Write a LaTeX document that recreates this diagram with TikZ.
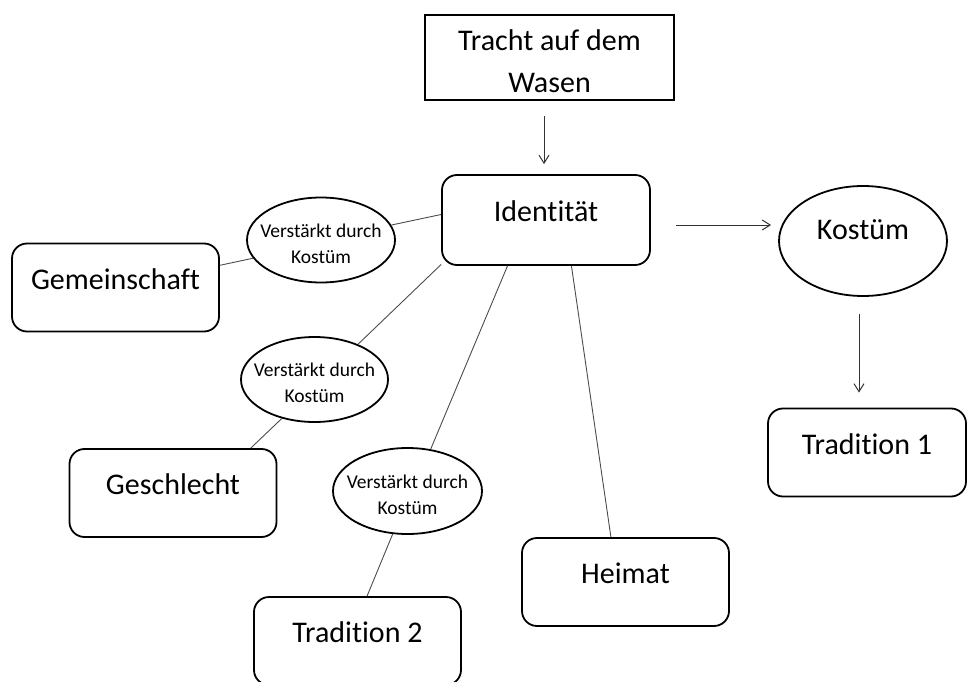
\documentclass[tikz,border=0pt]{standalone}
\usepackage{fontspec}
\setmainfont[Ligatures=NoCommon]{Carlito}
\usetikzlibrary{shapes,arrows.meta,positioning}

\begin{document}
\begin{tikzpicture}[x=1pt, y=-1pt,
        >={Straight Barb[length=8pt,width=10pt]},
        every node/.style={font=\fontsize{30}{42}\selectfont},
        box/.style={draw, line width=1.8pt, rounded corners=15pt, minimum width=207pt, minimum height=88pt, text height=21pt, text depth=17.5pt},
        bubble/.style={draw, ellipse, line width=1.8pt, inner xsep=-20pt, inner ysep=0pt, minimum width=148pt, minimum height=85pt, align=center, font=\fontsize{19.5}{26}\selectfont},
        link/.style={draw=black!70, line width=0.9pt},
        arrow/.style={->, draw=black!80, line width=1pt}]

        \useasboundingbox (0,0) rectangle (967,682);

        % Top box
        \node[draw, line width=1.9pt, minimum width=249pt, minimum height=85pt, inner sep=0pt, align=center] (tracht) at (549.5,57.5) {\rule{0pt}{28pt}Tracht auf dem\\Wasen};

        % Centre box
        \node[box, minimum width=208pt, minimum height=90pt] (ident) at (546,220) {Identität};

        % Right column
        \node[draw, ellipse, line width=1.8pt, minimum width=168pt, minimum height=110pt, text height=21pt, text depth=23pt] (kostuem) at (863,241) {Kostüm};
        \node[box, minimum width=198pt] (trad1) at (867,452.5) {Tradition 1};

        % Boxes round the centre
        \node[box] (gemein) at (115.5,287.5) {Gemeinschaft};
        \node[box] (geschl) at (173,493) {Geschlecht};
        \node[box] (trad2) at (357.5,641) {Tradition 2};
        \node[box] (heimat) at (625.5,582) {Heimat};

        % Ellipses on the links
        \node[bubble] (verst1) at (321,240) {\rule{0pt}{20.5pt}Verstärkt durch\\Kostüm};
        \node[bubble, minimum width=147pt] (verst2) at (314.5,379.5) {\rule{0pt}{20.5pt}Verstärkt durch\\Kostüm};
        \node[bubble, minimum width=149pt, minimum height=86pt] (verst3) at (407.5,491) {\rule{0pt}{20.5pt}Verstärkt durch\\Kostüm};

        % Arrows
        \draw[arrow, shorten <=15pt, shorten >=10pt] ([xshift=-5.5pt]tracht.south) -- ([xshift=-2pt]ident.north);
        \draw[arrow, shorten <=25pt, shorten >=7pt] ([yshift=-5pt]ident.east) -- ([yshift=-5pt]ident.east -| kostuem.west);
        \draw[arrow, shorten <=17pt, shorten >=15pt] ([xshift=-4pt]kostuem.south) -- ([xshift=-4pt]kostuem.south |- trad1.north);

        % Links
        \draw[link] (ident.177) -- (verst1.12);
        \draw[link] (verst1.195) -- (gemein.12);
        \draw[link] (ident.203) -- (verst2.39);
        \draw[link] (verst2.230) -- (geschl.30);
        \draw[link] (ident.230) -- (verst3.61);
        \draw[link] (verst3.251) -- (trad2.78);
        \draw[link] (ident.299) -- (heimat.108);
    \end{tikzpicture}
\end{document}
